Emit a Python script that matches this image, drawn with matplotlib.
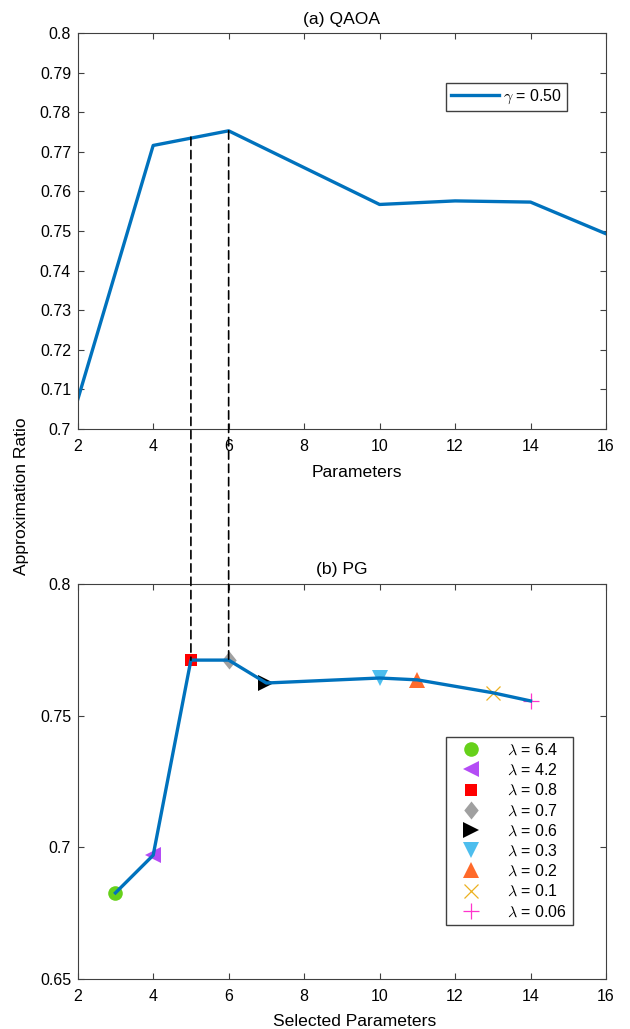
import matplotlib
matplotlib.use("Agg")
import matplotlib.pyplot as plt
from matplotlib.patches import ConnectionPatch

plt.rcParams['font.family'] = ['Liberation Sans', 'DejaVu Sans']
plt.rcParams['font.size'] = 11.5
plt.rcParams['mathtext.fontset'] = 'cm'

# (a) QAOA
qaoa_params = [2, 4, 6, 10, 12, 14, 16]
qaoa_ratio = [0.7074, 0.7716, 0.7753, 0.7567, 0.7576, 0.7573, 0.7493]

# (b) PG
pg_params = [3, 4, 5, 6, 7, 10, 11, 13, 14]
pg_ratio = [0.6827, 0.697, 0.7711, 0.7711, 0.7624, 0.7643, 0.7636, 0.7587, 0.7556]
pg_lambdas = ['6.4', '4.2', '0.8', '0.7', '0.6', '0.3', '0.2', '0.1', '0.06']
diamond = [(0, 1), (0.8, 0), (0, -1), (-0.8, 0), (0, 1)]
pg_markers = ['o', '<', 's', diamond, '>', 'v', '^', 'x', '+']
pg_colors = ['#66d11a', '#b44cf5', '#ff0000', '#a0a0a0', '#000000',
             '#4dbeee', '#ff6a2a', '#edb120', '#ff33cc']
pg_sizes = [10.5, 12, 8.5, 13, 12, 12, 12, 10, 11]

# vertical guides linking the two panels
guide_x = [5, 6]
guide_top = [0.7737, 0.7753]
guide_bottom = [0.7711, 0.7711]

blue = '#0072BD'
edge = '#404040'

fig = plt.figure(figsize=(6.3, 10.29), dpi=100)
ax1 = fig.add_axes([77.7 / 630, 1 - 429 / 1029, 528.3 / 630, 396 / 1029])
ax2 = fig.add_axes([77.7 / 630, 1 - 979 / 1029, 528.3 / 630, 395 / 1029])

ax1.plot(qaoa_params, qaoa_ratio, color=blue, linewidth=2.4, label=r'$\gamma$ = 0.50')
ax1.set_xlim(2, 16)
ax1.set_ylim(0.7, 0.8)
ax1.set_xticks(range(2, 17, 2))
ax1.set_yticks([0.7 + 0.01 * i for i in range(11)])
ax1.set_yticklabels(['0.7', '0.71', '0.72', '0.73', '0.74', '0.75', '0.76', '0.77', '0.78', '0.79', '0.8'])
ax1.set_xlabel('Parameters', fontsize=12.6)
ax1.xaxis.set_label_coords(0.529, -48 / 396)
ax1.xaxis.label.set_verticalalignment('baseline')
ax1.set_title('(a) QAOA', fontsize=12.6, pad=6.5)
ax1.legend(loc='upper right', bbox_to_anchor=(0.926, 0.874), fancybox=False,
           edgecolor=edge, handlelength=3.0, handletextpad=0.25, borderpad=0.3,
           borderaxespad=0, framealpha=1)

for m, c, lam, sz, xv, yv in zip(pg_markers, pg_colors, pg_lambdas, pg_sizes, pg_params, pg_ratio):
    if m in ('x', '+'):
        ax2.plot(xv, yv, linestyle='none', marker=m, color=c, markersize=sz,
                 markeredgewidth=0.9, label=r'$\lambda$ = ' + lam, zorder=2)
    else:
        ax2.plot(xv, yv, linestyle='none', marker=m, color=c, markersize=sz,
                 markeredgewidth=0, label=r'$\lambda$ = ' + lam, zorder=2)
ax2.plot(pg_params, pg_ratio, color=blue, linewidth=2.4, zorder=3)
ax2.set_xlim(2, 16)
ax2.set_ylim(0.65, 0.8)
ax2.set_xticks(range(2, 17, 2))
ax2.set_yticks([0.65, 0.7, 0.75, 0.8])
ax2.set_yticklabels(['0.65', '0.7', '0.75', '0.8'])
ax2.set_xlabel('Selected Parameters', fontsize=12.6)
ax2.xaxis.set_label_coords(0.524, -47 / 395)
ax2.xaxis.label.set_verticalalignment('baseline')
ax2.set_title('(b) PG', fontsize=12.6, pad=7)
ax2.legend(loc='upper left', bbox_to_anchor=(0.697, 0.613), fancybox=False,
           edgecolor=edge, framealpha=1, handlelength=2.4, labelspacing=0.3,
           borderpad=0.35, borderaxespad=0, handletextpad=1.1)

for ax in (ax1, ax2):
    ax.tick_params(axis='x', direction='in', top=True, length=4, color=edge, pad=7)
    ax.tick_params(axis='y', direction='in', right=True, length=4, color=edge, pad=4.8)
    for s in ax.spines.values():
        s.set_color(edge)
        s.set_linewidth(0.8)

for xv, yt, yb in zip(guide_x, guide_top, guide_bottom):
    con = ConnectionPatch(xyA=(xv, yt), coordsA=ax1.transData,
                          xyB=(xv, yb), coordsB=ax2.transData,
                          linestyle=(0, (5, 3)), color='black', linewidth=1.2, zorder=5)
    fig.add_artist(con)

fig.text(22 / 630, 1 - 496 / 1029, 'Approximation Ratio', rotation=90,
         ha='center', va='center', fontsize=12.6)

fig.savefig('out.png', dpi=100)
